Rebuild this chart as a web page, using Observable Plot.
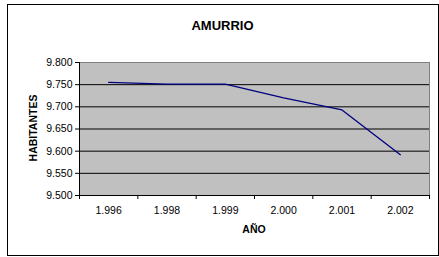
<!DOCTYPE html>
<html>
<head>
<meta charset="utf-8">
<script src="https://cdn.jsdelivr.net/npm/d3@7"></script>
<script src="https://cdn.jsdelivr.net/npm/@observablehq/plot@0.6"></script>
<style>
  html, body { margin: 0; padding: 0; background: #fff; }
  #wrap { position: relative; width: 439px; height: 257px; overflow: hidden; font-family: "Liberation Sans", Arial, sans-serif; }
  #wrap svg { position: absolute; left: 0; top: 0; }
  #border { position: absolute; left: 7px; top: 4px; width: 430px; height: 250px; border: 1px solid #000; box-sizing: content-box; pointer-events: none; }
  .lbl { position: absolute; font-weight: bold; color: #000; white-space: nowrap; }
  #title { left: 0; width: 445px; top: 18px; text-align: center; font-size: 13px; }
  #xlab { left: 154px; width: 200px; top: 223px; text-align: center; font-size: 10.5px; }
  #ylab { left: 33px; top: 128px; font-size: 10.5px; transform: translate(-50%, -50%) rotate(-90deg); }
</style>
</head>
<body>
<div id="wrap">
  <div id="border"></div>
  <div id="title" class="lbl">AMURRIO</div>
  <div id="xlab" class="lbl">AÑO</div>
  <div id="ylab" class="lbl">HABITANTES</div>
</div>
<script>
const years = ["1.996", "1.998", "1.999", "2.000", "2.001", "2.002"];
const habitantes = [9755, 9751, 9751, 9720, 9693, 9592];
const yTicks = [9500, 9550, 9600, 9650, 9700, 9750, 9800];
const gridValues = [9550, 9600, 9650, 9700, 9750];

const data = years.map((y, i) => ({i: i + 0.5, year: y, v: habitantes[i]}));
const fmt = d => d3.format(",")(d).replace(/,/g, ".");

const chart = Plot.plot({
  width: 439,
  height: 257,
  marginLeft: 79,
  marginRight: 10,
  marginTop: 62,
  marginBottom: 62,
  style: {background: "transparent", fontFamily: "Liberation Sans, Arial, sans-serif", fontSize: "10.5px", color: "#000"},
  x: {type: "linear", domain: [0, years.length], axis: null},
  y: {domain: [9500, 9800], axis: null},
  marks: [
    Plot.frame({fill: "#c0c0c0", stroke: "#808080"}),
    Plot.ruleY(gridValues, {stroke: "#000", strokeWidth: 1}),
    Plot.ruleX([0], {stroke: "#000"}),
    Plot.ruleY([9500], {stroke: "#000"}),
    Plot.axisY(yTicks, {tickSize: 4, tickPadding: 3, tickFormat: fmt, label: null, stroke: "#000"}),
    Plot.axisX(d3.range(years.length + 1), {tickSize: 4, tickFormat: () => "", label: null, stroke: "#000"}),
    Plot.axisX(data.map(d => d.i), {tickSize: 0, tickPadding: 11, tickFormat: d => years[Math.floor(d)], label: null}),
    Plot.line(data, {x: "i", y: "v", stroke: "#000080", strokeWidth: 1.3})
  ]
});
document.getElementById("wrap").prepend(chart);
</script>
</body>
</html>
